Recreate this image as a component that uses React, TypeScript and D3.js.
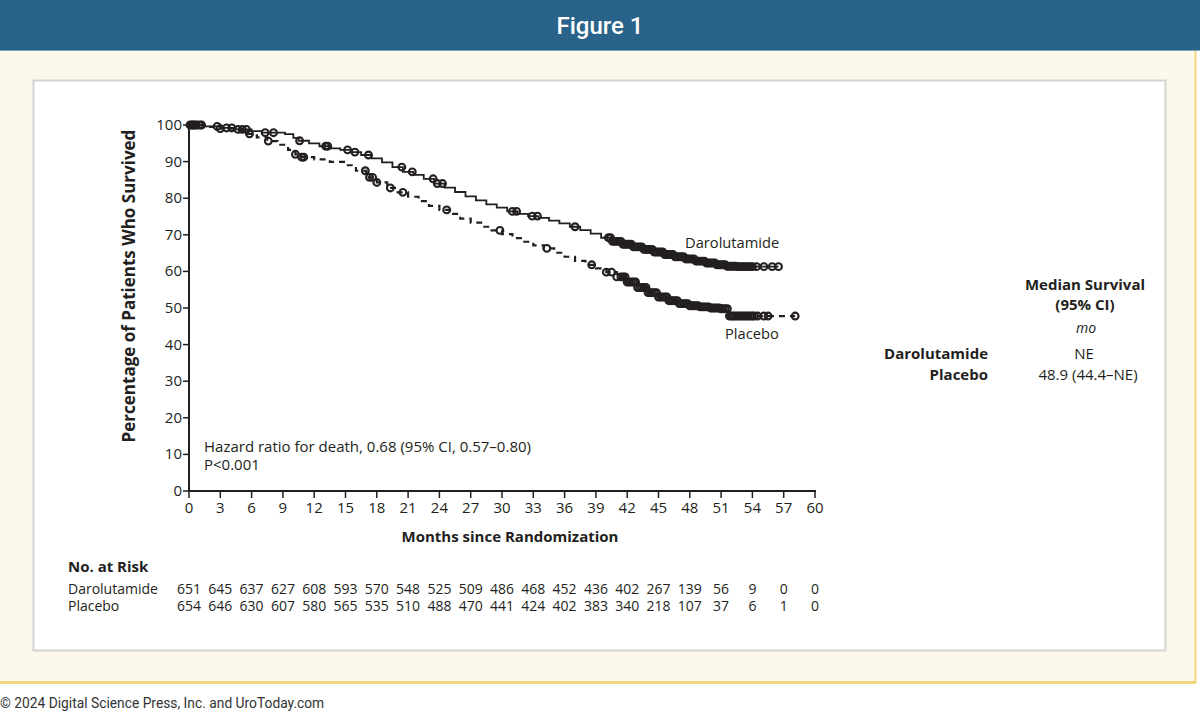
import React from 'react';
import * as d3 from 'd3';

// Kaplan-Meier step points (month, % surviving)
const daroTimes = [0, 1.5, 3, 4.5, 6, 7, 9.2, 10, 10.5, 11.5, 12.5, 13.5, 14.5, 15.5, 16.5, 17.5, 18.5, 19.5, 20.5, 21.5, 22.5, 23.5, 24.5, 25.5, 26.5, 27.5, 28.5, 29.5, 30.5, 31.5, 32.5, 33.5, 34.5, 35.5, 36.5, 37.5, 38.5, 39.5, 40.5, 41.5, 42.5, 43.5, 44.5, 45.5, 46.5, 47.5, 48.5, 49.5, 50.5, 51.5, 52.5, 56.5];
const daroSurv = [100, 99.6, 99.2, 98.8, 98.3, 97.9, 97.5, 96.5, 95.7, 95, 94.2, 93.6, 93.2, 92.6, 91.8, 90.9, 89.8, 88.5, 87.2, 86.4, 85.3, 84, 82.9, 81.7, 80.5, 79.4, 78.3, 77.4, 76.4, 75.7, 75.1, 74.6, 73.9, 73.1, 72.2, 71.3, 70.3, 69.2, 68.2, 67.4, 66.7, 66, 65.3, 64.6, 64, 63.4, 62.8, 62.3, 61.8, 61.4, 61.3, 61.3];

const placTimes = [0, 1.5, 3, 4.5, 5.5, 6.5, 7.5, 8.5, 9.5, 10.2, 10.8, 12, 13.5, 15, 16, 17, 18, 19, 20, 21, 22, 23, 24, 25, 26, 27, 28, 29, 30, 31, 32, 33, 34, 35, 36, 37, 38, 39, 40, 41, 42, 43, 44, 45, 46, 47, 48, 49, 50, 51, 51.7, 58.1];
const placSurv = [100, 99.5, 99, 98.4, 97.6, 96.6, 95.6, 94.6, 93.2, 92, 91.2, 90.6, 89.9, 89, 87.5, 85.7, 84.3, 82.8, 81.6, 80.4, 79.2, 77.9, 76.8, 75.7, 74.4, 73.3, 72.2, 71.2, 70.2, 69.1, 68.1, 67.1, 66.3, 65.1, 64, 62.9, 61.8, 60.8, 59.8, 58.5, 57.1, 55.6, 54.2, 53, 52, 51.2, 50.6, 50.3, 50, 49.8, 47.8, 47.8];

// censoring times (months)
const daroCensor = [0.1, 0.4, 0.7, 1.0, 1.2, 2.7, 3.6, 4.1, 4.7, 5.1, 5.5, 7.3, 8.1, 10.6, 13.1, 13.3, 15.2, 15.9, 17.2, 20.4, 21.4, 23.4, 23.8, 24.3, 31.0, 31.4, 32.9, 33.4, 37.0,
  40.2, 40.4, 40.6, 40.8, 41.0, 41.2, 41.4, 41.6, 41.8, 42.0, 42.2, 42.4, 42.6, 42.8, 43.0, 43.2, 43.4, 43.6, 43.8, 44.0, 44.2, 44.4, 44.6, 44.8, 45.0, 45.2, 45.4, 45.6, 45.8, 46.0, 46.2, 46.4, 46.6, 46.8, 47.0, 47.2, 47.4, 47.6, 47.8, 48.0, 48.2, 48.4, 48.6, 48.8, 49.0, 49.2, 49.4, 49.6, 49.8, 50.0, 50.2, 50.4, 50.6, 50.8, 51.0, 51.2, 51.4, 51.6, 51.8, 52.0, 52.2, 52.4, 52.6, 52.8, 53.0, 53.2, 53.4, 53.6, 53.8, 54.0,
  54.4, 55.1, 55.9, 56.5];
const placCensor = [0.3, 0.6, 3.0, 5.8, 7.6, 10.2, 10.8, 11.0, 16.9, 17.3, 17.6, 18.0, 19.3, 20.5, 24.7, 29.8, 34.3, 38.6, 40.0, 40.5, 41.0,
  41.4, 41.6, 41.8, 42.0, 42.2, 42.4, 42.6, 42.8, 43.0, 43.2, 43.4, 43.6, 43.8, 44.0, 44.2, 44.4, 44.6, 44.8, 45.0, 45.2, 45.4, 45.6, 45.8, 46.0, 46.2, 46.4, 46.6, 46.8, 47.0, 47.2, 47.4, 47.6, 47.8, 48.0, 48.2, 48.4, 48.6, 48.8, 49.0, 49.2, 49.4, 49.6, 49.8, 50.0, 50.2, 50.4, 50.6, 50.8, 51.0, 51.2, 51.4, 51.6, 51.8, 52.0, 52.2, 52.4, 52.6, 52.8, 53.0, 53.2, 53.4, 53.6, 53.8, 54.0, 54.2, 54.5,
  55.1, 55.5, 58.1];

const xTicks = [0, 3, 6, 9, 12, 15, 18, 21, 24, 27, 30, 33, 36, 39, 42, 45, 48, 51, 54, 57, 60];
const yTicks = [0, 10, 20, 30, 40, 50, 60, 70, 80, 90, 100];

const daroAtRisk = ['651', '645', '637', '627', '608', '593', '570', '548', '525', '509', '486', '468', '452', '436', '402', '267', '139', '56', '9', '0', '0'];
const placAtRisk = ['654', '646', '630', '607', '580', '565', '535', '510', '488', '470', '441', '424', '402', '383', '340', '218', '107', '37', '6', '1', '0'];

const FONT = '"Open Sans", "Noto Sans", sans-serif';
const INK = '#231f20';

const x = d3.scaleLinear().domain([0, 60]).range([189, 815]);
const y = d3.scaleLinear().domain([0, 100]).range([491, 125]);

const stepLine = d3.line<[number, number]>()
  .x(d => x(d[0]))
  .y(d => y(d[1]))
  .curve(d3.curveStepAfter);

function survAt(times: number[], surv: number[], t: number) {
  const i = d3.bisectRight(times, t) - 1;
  return surv[Math.max(0, Math.min(i, surv.length - 1))];
}

export default function App() {
  const daroPts = daroTimes.map((t, i) => [t, daroSurv[i]] as [number, number]);
  const placPts = placTimes.map((t, i) => [t, placSurv[i]] as [number, number]);

  return (
    <div style={{ position: 'fixed', left: 0, top: 0 }}>
      <svg width={1200} height={716} style={{ display: 'block', fontFamily: FONT }}>
        <rect x={0} y={0} width={1200} height={716} fill="#ffffff" />
        {/* cream frame */}
        <rect x={0} y={50} width={1195} height={632} fill="#fdf9ea" />
        <line x1={1195.5} y1={50} x2={1195.5} y2={683} stroke="#f2d67c" strokeWidth={2} />
        <line x1={0} y1={682.5} x2={1196} y2={682.5} stroke="#f2d67c" strokeWidth={3} />
        {/* header */}
        <rect x={0} y={0} width={1200} height={50} fill="#2a6389" />
        <line x1={0} y1={50.5} x2={1200} y2={50.5} stroke="#7aa3bd" strokeWidth={1} />
        <text x={600} y={34} textAnchor="middle" fill="#ffffff" fontSize={24} fontWeight={500} fontFamily='Roboto, sans-serif'>Figure 1</text>
        {/* white panel */}
        <rect x={33.5} y={80.5} width={1132} height={570} fill="#ffffff" stroke="#d4d4d2" strokeWidth={2} />

        {/* axes */}
        <line x1={x(0)} y1={y(100) - 1} x2={x(0)} y2={y(0) + 1} stroke={INK} strokeWidth={2} />
        <line x1={x(0) - 1} y1={y(0)} x2={x(60) + 1} y2={y(0)} stroke={INK} strokeWidth={2} />
        {yTicks.map(t => (
          <g key={'y' + t}>
            <line x1={x(0) - 6} x2={x(0)} y1={y(t)} y2={y(t)} stroke={INK} strokeWidth={1.5} />
            <text x={x(0) - 7} y={y(t) + 5} textAnchor="end" fontSize={15} fill={INK}>{t}</text>
          </g>
        ))}
        {xTicks.map(t => (
          <g key={'x' + t}>
            <line x1={x(t)} x2={x(t)} y1={y(0)} y2={y(0) + 7} stroke={INK} strokeWidth={1.5} />
            <text x={x(t)} y={513} textAnchor="middle" fontSize={15} fill={INK}>{t}</text>
          </g>
        ))}
        <text x={510} y={542} textAnchor="middle" fontSize={15} fontWeight="bold" fill={INK}>Months since Randomization</text>
        <text transform="translate(135,286) rotate(-90)" textAnchor="middle" fontSize={17} fontWeight="bold" fill={INK}>Percentage of Patients Who Survived</text>

        {/* curves */}
        <path d={stepLine(daroPts) || ''} fill="none" stroke={INK} strokeWidth={1.8} />
        <path d={stepLine(placPts) || ''} fill="none" stroke={INK} strokeWidth={2.2} strokeDasharray="6,5" />
        {daroCensor.map((t, i) => (
          <circle key={'dc' + i} cx={x(t)} cy={y(survAt(daroTimes, daroSurv, t))} r={3.4} fill="none" stroke={INK} strokeWidth={2.1} />
        ))}
        {placCensor.map((t, i) => (
          <circle key={'pc' + i} cx={x(t)} cy={y(survAt(placTimes, placSurv, t))} r={3.4} fill="none" stroke={INK} strokeWidth={2.1} />
        ))}
        <text x={685} y={248} fontSize={14.7} fill={INK}>Darolutamide</text>
        <text x={725} y={339} fontSize={14.7} fill={INK}>Placebo</text>

        {/* hazard ratio */}
        <text x={204} y={452} fontSize={15} fill={INK}>Hazard ratio for death, 0.68 (95% CI, 0.57–0.80)</text>
        <text x={204} y={470} fontSize={15} fill={INK}>P&lt;0.001</text>

        {/* median survival table */}
        <text x={1085} y={290} textAnchor="middle" fontSize={15} fontWeight="bold" fill={INK}>Median Survival</text>
        <text x={1085} y={310} textAnchor="middle" fontSize={15} fontWeight="bold" fill={INK}>(95% CI)</text>
        <text x={1086} y={333} textAnchor="middle" fontSize={14} fontStyle="italic" fill={INK}>mo</text>
        <text x={988} y={359} textAnchor="end" fontSize={15} fontWeight="bold" fill={INK}>Darolutamide</text>
        <text x={1084} y={359} textAnchor="middle" fontSize={15} fill={INK}>NE</text>
        <text x={988} y={380} textAnchor="end" fontSize={15} fontWeight="bold" fill={INK}>Placebo</text>
        <text x={1088} y={380} textAnchor="middle" fontSize={15} fill={INK}>48.9 (44.4–NE)</text>

        {/* number at risk */}
        <text x={68} y={572} fontSize={15} fontWeight="bold" fill={INK}>No. at Risk</text>
        <text x={68} y={594} fontSize={14} fill={INK}>Darolutamide</text>
        <text x={68} y={611} fontSize={14} fill={INK}>Placebo</text>
        {daroAtRisk.map((v, i) => (
          <text key={'dr' + i} x={x(xTicks[i])} y={594} textAnchor="middle" fontSize={14} fill={INK}>{v}</text>
        ))}
        {placAtRisk.map((v, i) => (
          <text key={'pr' + i} x={x(xTicks[i])} y={611} textAnchor="middle" fontSize={14} fill={INK}>{v}</text>
        ))}

        {/* footer */}
        <text x={0} y={708} fontSize={13.8} fill="#333" fontFamily='Roboto, sans-serif'>© 2024 Digital Science Press, Inc. and UroToday.com</text>
      </svg>
    </div>
  );
}
